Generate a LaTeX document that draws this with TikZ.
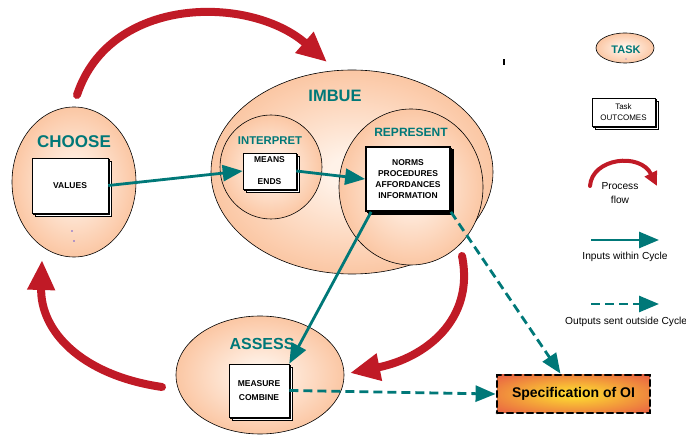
\documentclass[tikz,border=0pt]{standalone}
\usepackage{fontspec}
\setmainfont{Liberation Sans}
\usetikzlibrary{shapes.geometric,arrows.meta,shadows}

\definecolor{cycleteal}{RGB}{0,120,120}
\definecolor{cyclered}{RGB}{192,26,38}
\definecolor{taskin}{RGB}{255,242,232}
\definecolor{taskout}{RGB}{249,176,128}
\definecolor{specin}{RGB}{252,210,50}
\definecolor{specout}{RGB}{232,92,68}
\definecolor{markpurple}{RGB}{110,90,210}

\pgfdeclareradialshading{taskglow}{\pgfpoint{0bp}{0bp}}{color(0bp)=(taskin); color(4bp)=(taskin); color(36bp)=(taskout); color(50bp)=(taskout)}
\pgfdeclareradialshading{specglow}{\pgfpoint{0bp}{0bp}}{color(0bp)=(specin); color(5bp)=(specin); color(36bp)=(specout); color(50bp)=(specout)}

\begin{document}
\begin{tikzpicture}[x=1pt,y=-1pt]
        \def\boxfont{\fontsize{8.5}{11}\selectfont\bfseries}
        \def\legendfont{\fontsize{10.2}{13.5}\selectfont}

        \tikzset{
           task/.style={
              ellipse,
              draw=black,
              line width=0.6pt,
              shade,
              shading=taskglow,
              inner sep=0pt
           },
           tasktitle/.style={
              text=cycleteal,
              inner sep=0pt
           },
           outcome/.style={
              rectangle,
              draw=black,
              fill=white,
              line width=0.6pt,
              double copy shadow={shadow xshift=1.5pt, shadow yshift=-1.5pt},
              align=center,
              inner sep=0pt,
              font=\boxfont
           },
           inflow/.style={
              draw=cycleteal,
              line width=2.8pt,
              -{Triangle[length=20pt,width=16pt]}
           },
           outflow/.style={
              inflow,
              dash pattern=on 9pt off 5pt
           },
           process/.style={
              draw=cyclered,
              line width=8pt,
              line cap=round,
              -{Triangle[length=30pt,width=26pt]}
           }
        }

        \useasboundingbox (0,0) rectangle (686,435);

        % Tasks
        \node[task, minimum width=124pt, minimum height=150pt] (choose) at (74,182) {};
        \node[task, minimum width=282pt, minimum height=204pt] (imbue) at (352,172) {};
        \node[task, minimum width=102pt, minimum height=104pt] (interpret) at (271,167) {};
        \node[task, minimum width=144pt, minimum height=156pt] (represent) at (411,187) {};
        \node[task, minimum width=168pt, minimum height=118pt] (assess) at (260,375) {};

        \node[tasktitle, font=\fontsize{17}{20}\selectfont\bfseries] (choosetext) at (74,141.5) {CHOOSE};
        \node[tasktitle, font=\fontsize{16.5}{20}\selectfont\bfseries] (imbuetext) at (335,96) {IMBUE};
        \node[tasktitle, font=\fontsize{11.3}{14}\selectfont\bfseries] (interprettext) at (270,141) {INTERPRET};
        \node[tasktitle, font=\fontsize{12}{14}\selectfont\bfseries] (representtext) at (411,132.5) {REPRESENT};
        \node[tasktitle, font=\fontsize{16}{20}\selectfont\bfseries] (assesstext) at (262,344) {ASSESS};

        % Outcomes
        \node[outcome, minimum width=76pt, minimum height=55pt] (values) at (70,185.5) {VALUES};
        \node[outcome, minimum width=53pt, minimum height=36pt, font=\fontsize{8.5}{22}\selectfont\bfseries] (means) at (269.5,171) {MEANS\\ENDS};
        \node[outcome, minimum width=84pt, minimum height=64pt, line width=1.8pt] (norms) at (408,179) {NORMS\\PROCEDURES\\AFFORDANCES\\INFORMATION};
        \node[outcome, minimum width=60pt, minimum height=53pt, font=\fontsize{8.5}{14}\selectfont\bfseries] (measure) at (259,390.5) {MEASURE\\COMBINE};

        \node[draw=black, line width=2.8pt, line cap=round, dash pattern=on 6pt off 4pt,
              shade, shading=specglow,
              minimum width=153pt, minimum height=38pt, inner sep=0pt,
              font=\fontsize{14}{16}\selectfont\bfseries] (spec) at (573.5,394) {Specification of OI};

        % Inputs and outputs
        \draw[inflow] (values.east) -- (means.west);
        \draw[inflow] (means.east) -- (norms.west);
        \draw[inflow] ([xshift=6pt]norms.south west) -- (measure.north east);
        \draw[outflow] (norms.south east) -- ([xshift=-13pt]spec.north);
        \draw[outflow] (measure.east) -- (spec.west);

        % Process flow
        \draw[process] (77,95) .. controls (110,-5) and (250,-5) .. (327,62);
        \draw[process] (462,256) .. controls (475,320) and (425,358) .. (350,373);
        \draw[process] (162,387) .. controls (80,375) and (40,330) .. (42,260);

        % Legend
        \node[task, minimum width=58pt, minimum height=30pt] (legendtask) at (625,48) {};
        \node[tasktitle, font=\fontsize{11}{13}\selectfont\bfseries] (legendtasktext) at (626,49.5) {TASK};
        \node[outcome, minimum width=63pt, minimum height=28pt, font=\fontsize{8}{10.5}\selectfont] (legendoutcome) at (623.5,112) {Task\\OUTCOMES};

        \coordinate (procA) at (590,186);
        \coordinate (procB) at (657,186);
        \draw[draw=cyclered, line width=4pt, line cap=round, -{Triangle[length=14pt,width=13pt]}]
             (procA) .. controls (592,158) and (640,152) .. (procB);
        \node[align=center, font=\legendfont, inner sep=0pt] (proctext) at (620,193) {Process\\flow};

        \coordinate (inA) at (591,240);
        \coordinate (inB) at (659,240);
        \draw[inflow] (inA) -- (inB);
        \node[font=\legendfont, inner sep=0pt, anchor=base] (intext) at (625,260) {Inputs within Cycle};

        \coordinate (outA) at (591,304);
        \coordinate (outB) at (659,304);
        \draw[outflow] (outA) -- (outB);
        \node[font=\legendfont, inner sep=0pt, anchor=base west] (outtext) at (565,325) {Outputs sent outside Cycle};

        % Marks
        \fill[markpurple] (72,231) circle (0.8pt);
        \fill[markpurple] (74,241) circle (0.8pt);
        \fill[markpurple] (626,59) circle (0.7pt);
        \fill[black] (503,59) rectangle (505,65);
\end{tikzpicture}
\end{document}
